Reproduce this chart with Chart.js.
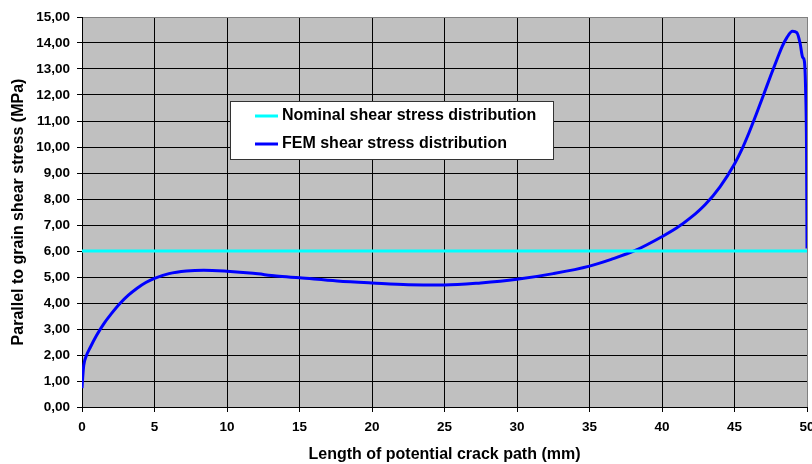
<!DOCTYPE html>
<html>
<head>
<meta charset="utf-8">
<script src="https://cdn.jsdelivr.net/npm/chart.js@4.4.1/dist/chart.umd.min.js"></script>
<style>
  html, body { margin: 0; padding: 0; background: #ffffff; overflow: hidden; }
  canvas { display: block; }
</style>
</head>
<body>
<canvas id="c" width="812" height="464"></canvas>
<script>
// ---- data ----
const seriesLabels = ['Nominal shear stress distribution', 'FEM shear stress distribution'];
const nominalX = [0, 50];
const nominalY = [6.0, 6.0];
const femX = [0, 0.05, 0.12, 0.3, 0.55, 1.0, 1.5, 2.0, 2.6, 3.2, 3.8, 4.4, 5.0, 6.0, 7.2, 8.4, 10.0,
  11.8, 13.4, 15.0, 17.6, 20.0, 22.5, 25.0, 27.5, 30.0, 32.5, 35.0, 36.5, 38.2, 40.0, 41.0,
  42.0, 43.0, 44.0, 45.0, 45.5, 46.0, 46.5, 47.0, 47.5, 48.0, 48.3, 48.6, 49.0, 49.3, 49.52, 49.7, 49.82, 49.9, 49.97, 50.0];
const femY = [0.72, 1.15, 1.6, 1.97, 2.27, 2.75, 3.2, 3.57, 3.97, 4.3, 4.57, 4.79, 4.95, 5.13, 5.23, 5.26, 5.22,
  5.14, 5.04, 4.97, 4.85, 4.77, 4.70, 4.69, 4.77, 4.91, 5.13, 5.42, 5.68, 6.03, 6.55, 6.88,
  7.29, 7.8, 8.47, 9.35, 9.9, 10.55, 11.26, 12.0, 12.75, 13.47, 13.88, 14.2, 14.45, 14.4, 14.0, 13.45, 13.3, 12.3, 9.8, 6.1];
const xTickValues = [0, 5, 10, 15, 20, 25, 30, 35, 40, 45, 50];
const yTickLabels = ['0,00','1,00','2,00','3,00','4,00','5,00','6,00','7,00','8,00','9,00',
  '10,00','11,00','12,00','13,00','14,00','15,00'];
const xTitle = 'Length of potential crack path (mm)';
const yTitle = 'Parallel to grain shear stress (MPa)';

const FONT = '"Liberation Sans", Arial, sans-serif';

const toPoints = (xs, ys) => xs.map((x, i) => ({ x: x, y: ys[i] }));

const plotBg = {
  id: 'plotBg',
  beforeDraw(chart) {
    const { ctx, chartArea: a } = chart;
    ctx.save();
    ctx.fillStyle = '#C0C0C0';
    ctx.fillRect(a.left, a.top, a.right - a.left, a.bottom - a.top);
    ctx.restore();
  }
};

const boxLegend = {
  id: 'boxLegend',
  afterDatasetsDraw(chart) {
    const { ctx } = chart;
    const x0 = 230.5, y0 = 101.5, w = 323, h = 58;
    ctx.save();
    ctx.fillStyle = '#ffffff';
    ctx.fillRect(x0, y0, w, h);
    ctx.strokeStyle = '#333333';
    ctx.lineWidth = 1;
    ctx.strokeRect(x0, y0, w, h);
    ctx.font = 'bold 16px ' + FONT;
    ctx.textBaseline = 'middle';
    ctx.textAlign = 'left';
    chart.data.datasets.forEach((ds, i) => {
      const yy = 116 + i * 28;
      ctx.strokeStyle = ds.borderColor;
      ctx.lineWidth = 3;
      ctx.beginPath();
      ctx.moveTo(255, yy);
      ctx.lineTo(278, yy);
      ctx.stroke();
      ctx.fillStyle = '#000000';
      ctx.fillText(ds.label, 282, yy);
    });
    ctx.restore();
  }
};

new Chart(document.getElementById('c'), {
  type: 'line',
  data: {
    datasets: [
      {
        label: seriesLabels[0],
        data: toPoints(nominalX, nominalY),
        borderColor: '#00FFFF',
        backgroundColor: '#00FFFF',
        borderWidth: 3,
        pointRadius: 0,
        tension: 0
      },
      {
        label: seriesLabels[1],
        data: toPoints(femX, femY),
        borderColor: '#0000FF',
        backgroundColor: '#0000FF',
        borderWidth: 3,
        pointRadius: 0,
        cubicInterpolationMode: 'monotone'
      }
    ]
  },
  options: {
    responsive: false,
    animation: false,
    events: [],
    layout: { padding: { left: 0, right: 5, top: 17, bottom: 0 } },
    plugins: {
      legend: { display: false },
      tooltip: { enabled: false }
    },
    scales: {
      x: {
        type: 'linear',
        min: 0,
        max: 50,
        afterBuildTicks(scale) { scale.ticks = xTickValues.map(v => ({ value: v })); },
        afterFit(scale) { scale.height = 57; scale.paddingLeft = 0; scale.paddingRight = 0; },
        ticks: {
          padding: 7,
          color: '#000',
          font: { family: FONT, size: 13.5, weight: 'bold' },
          maxRotation: 0,
          callback: (v) => String(v)
        },
        grid: {
          color: (c) => (c.tick && c.tick.value === 50 ? '#808080' : '#000000'),
          lineWidth: 1,
          tickLength: 5,
          tickColor: '#000000'
        },
        border: { color: '#000000', width: 1 },
        title: {
          display: true,
          text: xTitle,
          color: '#000',
          font: { family: FONT, size: 16, weight: 'bold' },
          padding: { top: 0, bottom: 0 }
        }
      },
      y: {
        type: 'linear',
        min: 0,
        max: 15,
        afterFit(scale) { scale.width = 82; },
        ticks: {
          stepSize: 1,
          padding: 7,
          color: '#000',
          font: { family: FONT, size: 13.5, weight: 'bold' },
          callback: (v, i) => yTickLabels[i]
        },
        grid: {
          color: (c) => (c.tick && c.tick.value === 15 ? '#808080' : '#000000'),
          lineWidth: 1,
          tickLength: 5,
          tickColor: '#000000'
        },
        border: { color: '#000000', width: 1 },
        title: {
          display: true,
          text: yTitle,
          color: '#000',
          font: { family: FONT, size: 16, weight: 'bold' },
          padding: { top: 9, bottom: 0 }
        }
      }
    }
  },
  plugins: [plotBg, boxLegend]
});
</script>
</body>
</html>
